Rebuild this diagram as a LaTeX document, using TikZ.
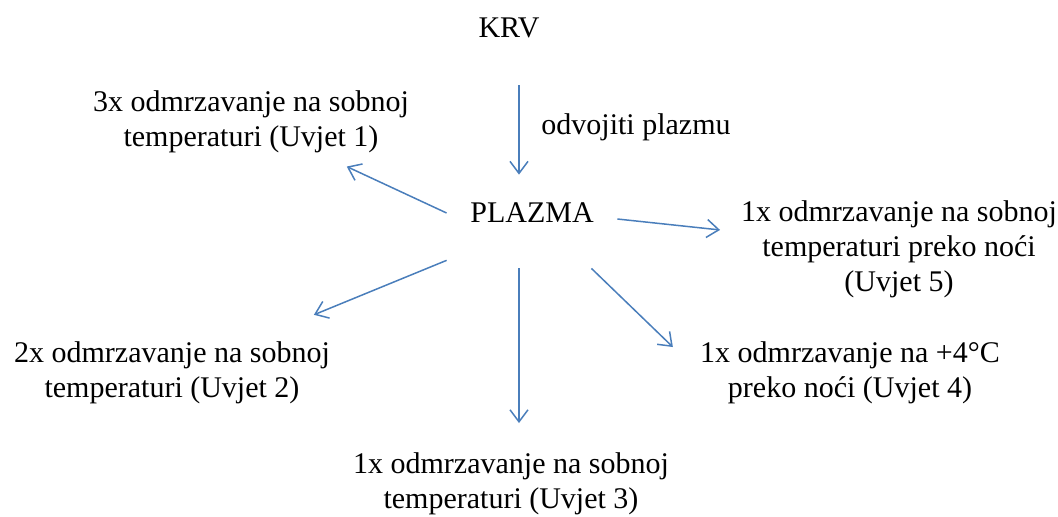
\documentclass[tikz,border=0pt]{standalone}
\usepackage{fontspec}
\setmainfont{Liberation Serif}
\usetikzlibrary{arrows.meta}
\definecolor{arrowblue}{RGB}{74,126,187}

\begin{document}
\begin{tikzpicture}[x=1pt, y=1pt,
  every node/.style = {inner sep=0pt, align=center, font=\fontsize{15}{17.5}\selectfont},
  arr/.style = {draw=arrowblue, line width=0.75pt, -{Straight Barb[length=6pt,width=9pt]}}]
  \useasboundingbox (0,0) rectangle (529,-258);
  \node (krv) at (254.5,-14) {KRV};
  \node (plazma) [minimum width=85pt, minimum height=55pt] at (266,-106.5) {PLAZMA};
  \node (odv) [anchor=west] at (270.5,-63.5) {odvojiti plazmu};
  \node (u1) at (125.5,-61) {3x odmrzavanje na sobnoj\\temperaturi (Uvjet 1)};
  \node (u5) at (449.5,-124.5) {1x odmrzavanje na sobnoj\\temperaturi preko noći\\(Uvjet 5)};
  \node (u2) at (86,-186.5) {2x odmrzavanje na sobnoj\\temperaturi (Uvjet 2)};
  \node (u4) at (425,-186.5) {1x odmrzavanje na +4°C\\preko noći (Uvjet 4)};
  \node (u3) at (255.5,-241.75) {1x odmrzavanje na sobnoj\\temperaturi (Uvjet 3)};
  % strelice
  \draw [arr, shorten <=23.3pt, shorten >=-8.5pt] ([xshift=5pt]krv.south) -- ([xshift=-6.5pt]plazma.north);
  \draw [arr, shorten >=52.8pt] (plazma.west) -- (u1.center);
  \draw [arr, shorten >=90pt] ([yshift=-3pt]plazma.east) -- (u5.center);
  \draw [arr, shorten >=76.7pt] (plazma.209) -- (u2.center);
  \draw [arr, shorten >=14.5pt] ([xshift=-6.5pt]plazma.south) -- ([xshift=4pt]u3.north);
  \draw [arr, shorten >=18.7pt] (plazma.-43) -- (u4.west);
\end{tikzpicture}
\end{document}
